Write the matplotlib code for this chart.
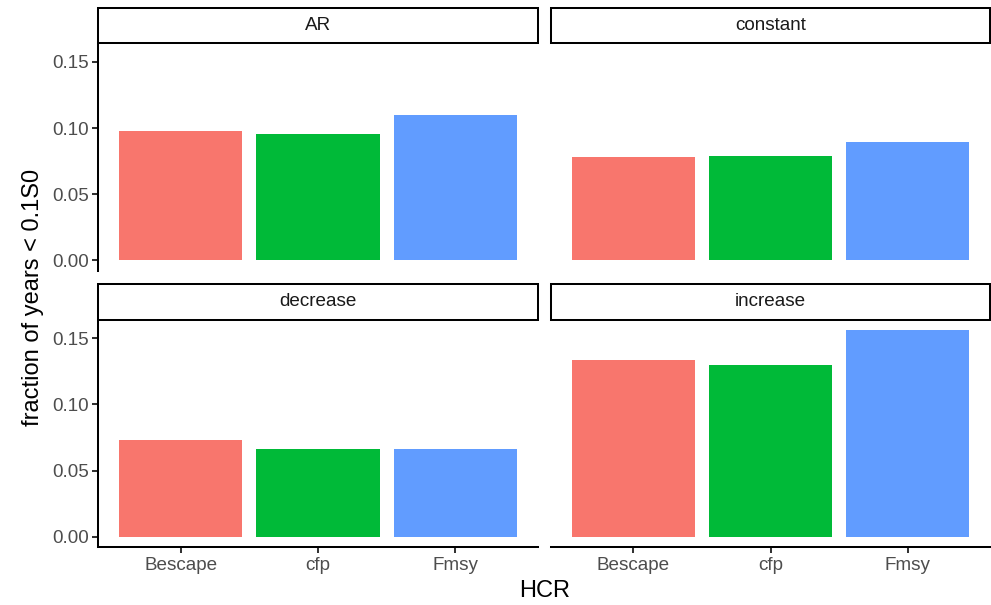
import matplotlib
matplotlib.use("Agg")
import matplotlib.pyplot as plt
from matplotlib.patches import Rectangle

plt.rcParams['font.family'] = ['Liberation Sans', 'DejaVu Sans']

categories = ["Bescape", "cfp", "Fmsy"]
facets = ["AR", "constant", "decrease", "increase"]
values = {
    "AR":       [0.0979, 0.0951, 0.1101],
    "constant": [0.0778, 0.0788, 0.0893],
    "decrease": [0.0731, 0.0665, 0.0661],
    "increase": [0.1334, 0.1298, 0.1563],
}
colors = ["#F8766D", "#00BA38", "#619CFF"]
yticks = [0.00, 0.05, 0.10, 0.15]

W, H = 991, 605
fig = plt.figure(figsize=(W / 100, H / 100), dpi=100)

allmax = max(max(v) for v in values.values())
ylo, yhi = -0.05 * allmax, 1.05 * allmax

col_x = [(98.3, 537.7), (551.0, 990.0)]
row_y = [(43.2, 270.6), (319.6, 547.0)]
strip_y = [(8.3, 43.2), (284.0, 319.6)]

tick_fs = 13.6
title_fs = 17.0
lw = 1.45
for i, f in enumerate(facets):
    r, c = divmod(i, 2)
    x0, x1 = col_x[c]
    y0, y1 = row_y[r]
    ax = fig.add_axes([x0 / W, 1 - y1 / H, (x1 - x0) / W, (y1 - y0) / H])
    xs = list(range(1, len(categories) + 1))
    ax.bar(xs, values[f], width=0.9, color=colors, linewidth=0)
    ax.set_xlim(0.4, len(categories) + 0.6)
    ax.set_ylim(ylo, yhi)
    for s in ["top", "right"]:
        ax.spines[s].set_visible(False)
    ax.spines["left"].set_linewidth(lw)
    ax.spines["bottom"].set_linewidth(lw)
    ax.spines["left"].set_color("black")
    ax.spines["bottom"].set_color("black")
    ax.tick_params(axis="both", length=4, width=lw, color="#333333",
                   labelsize=tick_fs, labelcolor="#4D4D4D", pad=3)
    ax.set_yticks(yticks)
    ax.set_yticklabels([f"{t:.2f}" for t in yticks])
    ax.set_xticks(xs)
    ax.set_xticklabels(categories)
    if c == 1:
        ax.spines["left"].set_visible(False)
        ax.tick_params(axis="y", left=False, labelleft=False)
    if r == 0:
        ax.spines["bottom"].set_visible(False)
        ax.tick_params(axis="x", bottom=False, labelbottom=False)
    ax.patch.set_alpha(0)

    # strip
    sy0, sy1 = strip_y[r]
    sax = fig.add_axes([x0 / W, 1 - sy1 / H, (x1 - x0) / W, (sy1 - sy0) / H])
    sax.set_xlim(0, 1)
    sax.set_ylim(0, 1)
    sax.axis("off")
    sax.add_patch(Rectangle((0, 0), 1, 1, facecolor="white", edgecolor="black",
                            linewidth=lw, transform=sax.transAxes, clip_on=False))
    sax.text(0.5, 0.5, f, ha="center", va="center", fontsize=tick_fs, color="#1A1A1A")

fig.text(545 / W, 1 - 591 / H, "HCR", ha="center", va="center", fontsize=title_fs, color="black")
fig.text(33 / W, 1 - 297 / H, "fraction of years < 0.1S0", ha="center", va="center",
         rotation=90, fontsize=title_fs, color="black")

fig.savefig("out.png", dpi=100, facecolor="white")
